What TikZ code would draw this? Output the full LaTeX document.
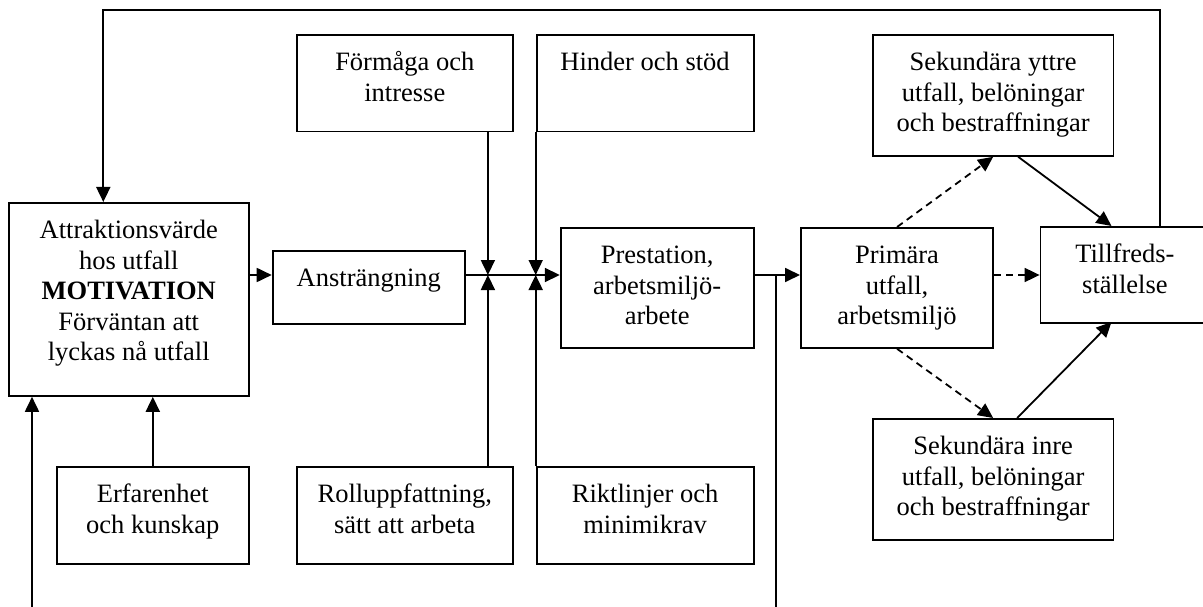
\documentclass[tikz,border=0pt]{standalone}
\usepackage{fontspec}
\setmainfont{Liberation Serif}
\usetikzlibrary{arrows.meta}
\newcommand{\boxtext}[3]{\parbox[c][#2][t]{#1}{\centering\rule{0pt}{36pt}#3}}

\begin{document}
\begin{tikzpicture}[x=1pt, y=-1pt, >={Triangle[length=15pt,width=14pt]},
  box/.style={draw, line width=1.8pt, inner sep=0pt, anchor=north west},
  line/.style={line width=1.8pt},
  link/.style={line, ->},
  dlink/.style={link, dash pattern=on 7pt off 5pt},
  font=\fontsize{26.5}{30.5}\selectfont]
\useasboundingbox (0,0) rectangle (1203,607);

% ---------- Left: motivation and its inputs ----------
\node[box] (motiv) at (7.7,202)
  {\boxtext{240.3pt}{193pt}{Attraktionsvärde\\hos utfall\\\textbf{MOTIVATION}\\Förväntan att\\lyckas nå utfall}};
\node[box] (erf) at (55.9,466) {\boxtext{192pt}{97pt}{Erfarenhet\\och kunskap}};
\node[box] (anstr) at (271.7,250) {\boxtext{192.5pt}{73pt}{Ansträngning}};

% ---------- Middle: moderators above and below ----------
\node[box] (formaga) at (295.8,34) {\boxtext{216.2pt}{96.7pt}{Förmåga och\\intresse}};
\node[box] (hinder) at (535.7,34) {\boxtext{217pt}{96.7pt}{Hinder och stöd}};
\node[box] (roll) at (295.8,466) {\boxtext{216.2pt}{97pt}{Rolluppfattning,\\sätt att arbeta}};
\node[box] (rikt) at (535.7,466) {\boxtext{217pt}{97pt}{Riktlinjer och\\minimikrav}};
\node[box] (prest) at (559.8,227) {\boxtext{193pt}{120pt}{Prestation,\\arbetsmiljö-\\arbete}};

% ---------- Right: outcomes ----------
\node[box] (prim) at (800,227) {\boxtext{192.3pt}{120pt}{Primära\\utfall,\\arbetsmiljö}};
\node[box] (sekY) at (871.9,34) {\boxtext{240.7pt}{121pt}{Sekundära yttre\\utfall, belöningar\\och bestraffningar}};
\node[box] (sekI) at (871.9,418) {\boxtext{240.7pt}{121pt}{Sekundära inre\\utfall, belöningar\\och bestraffningar}};
% box runs past the right edge of the page
\node[box] (tillf) at (1039.6,226)
  {\boxtext{200pt}{96pt}{\rightskip=31.2pt plus 1fil Tillfreds-\\ställelse}};

% ---------- Connectors ----------
\coordinate (main) at (0,275);
\coordinate (j1) at (487.9,275);
\coordinate (loopL) at (32,607);
\coordinate (loopR) at (776,607);
\coordinate (topL) at (103.3,10);
\coordinate (topR) at (1160,10);

\draw[link] (motiv.east |- main) -- (anstr.west |- main);
\draw[link] (anstr.east |- main) -- (prest.west |- main);
\draw[link] (formaga.south -| j1) -- (j1);
\draw[link] (roll.north -| j1) -- (j1);
\draw[link] (hinder.south west) -- (hinder.south west |- main);
\draw[link] (rikt.north west) -- (rikt.north west |- main);
\draw[link] (prest.east |- main) -- (prim.west |- main);
\draw[line] (loopR |- main) -- (loopR);
\draw[link] (loopL) -- (loopL |- motiv.south);
\draw[link] (erf.north) -- (erf.north |- motiv.south);

\draw[dlink] (prim.east |- main) -- (tillf.west |- main);
\draw[dlink] (prim.north) -- (sekY.south);
\draw[dlink] (prim.south) -- (sekI.north);
\draw[link] ([xshift=25pt]sekY.south) -- (1111.5,226);
\draw[link] ([xshift=24pt]sekI.north) -- (1111.5,322);
\draw[link] (tillf.north -| topR) -- (topR) -- (topL) -- (topL |- motiv.north);

\end{tikzpicture}
\end{document}
